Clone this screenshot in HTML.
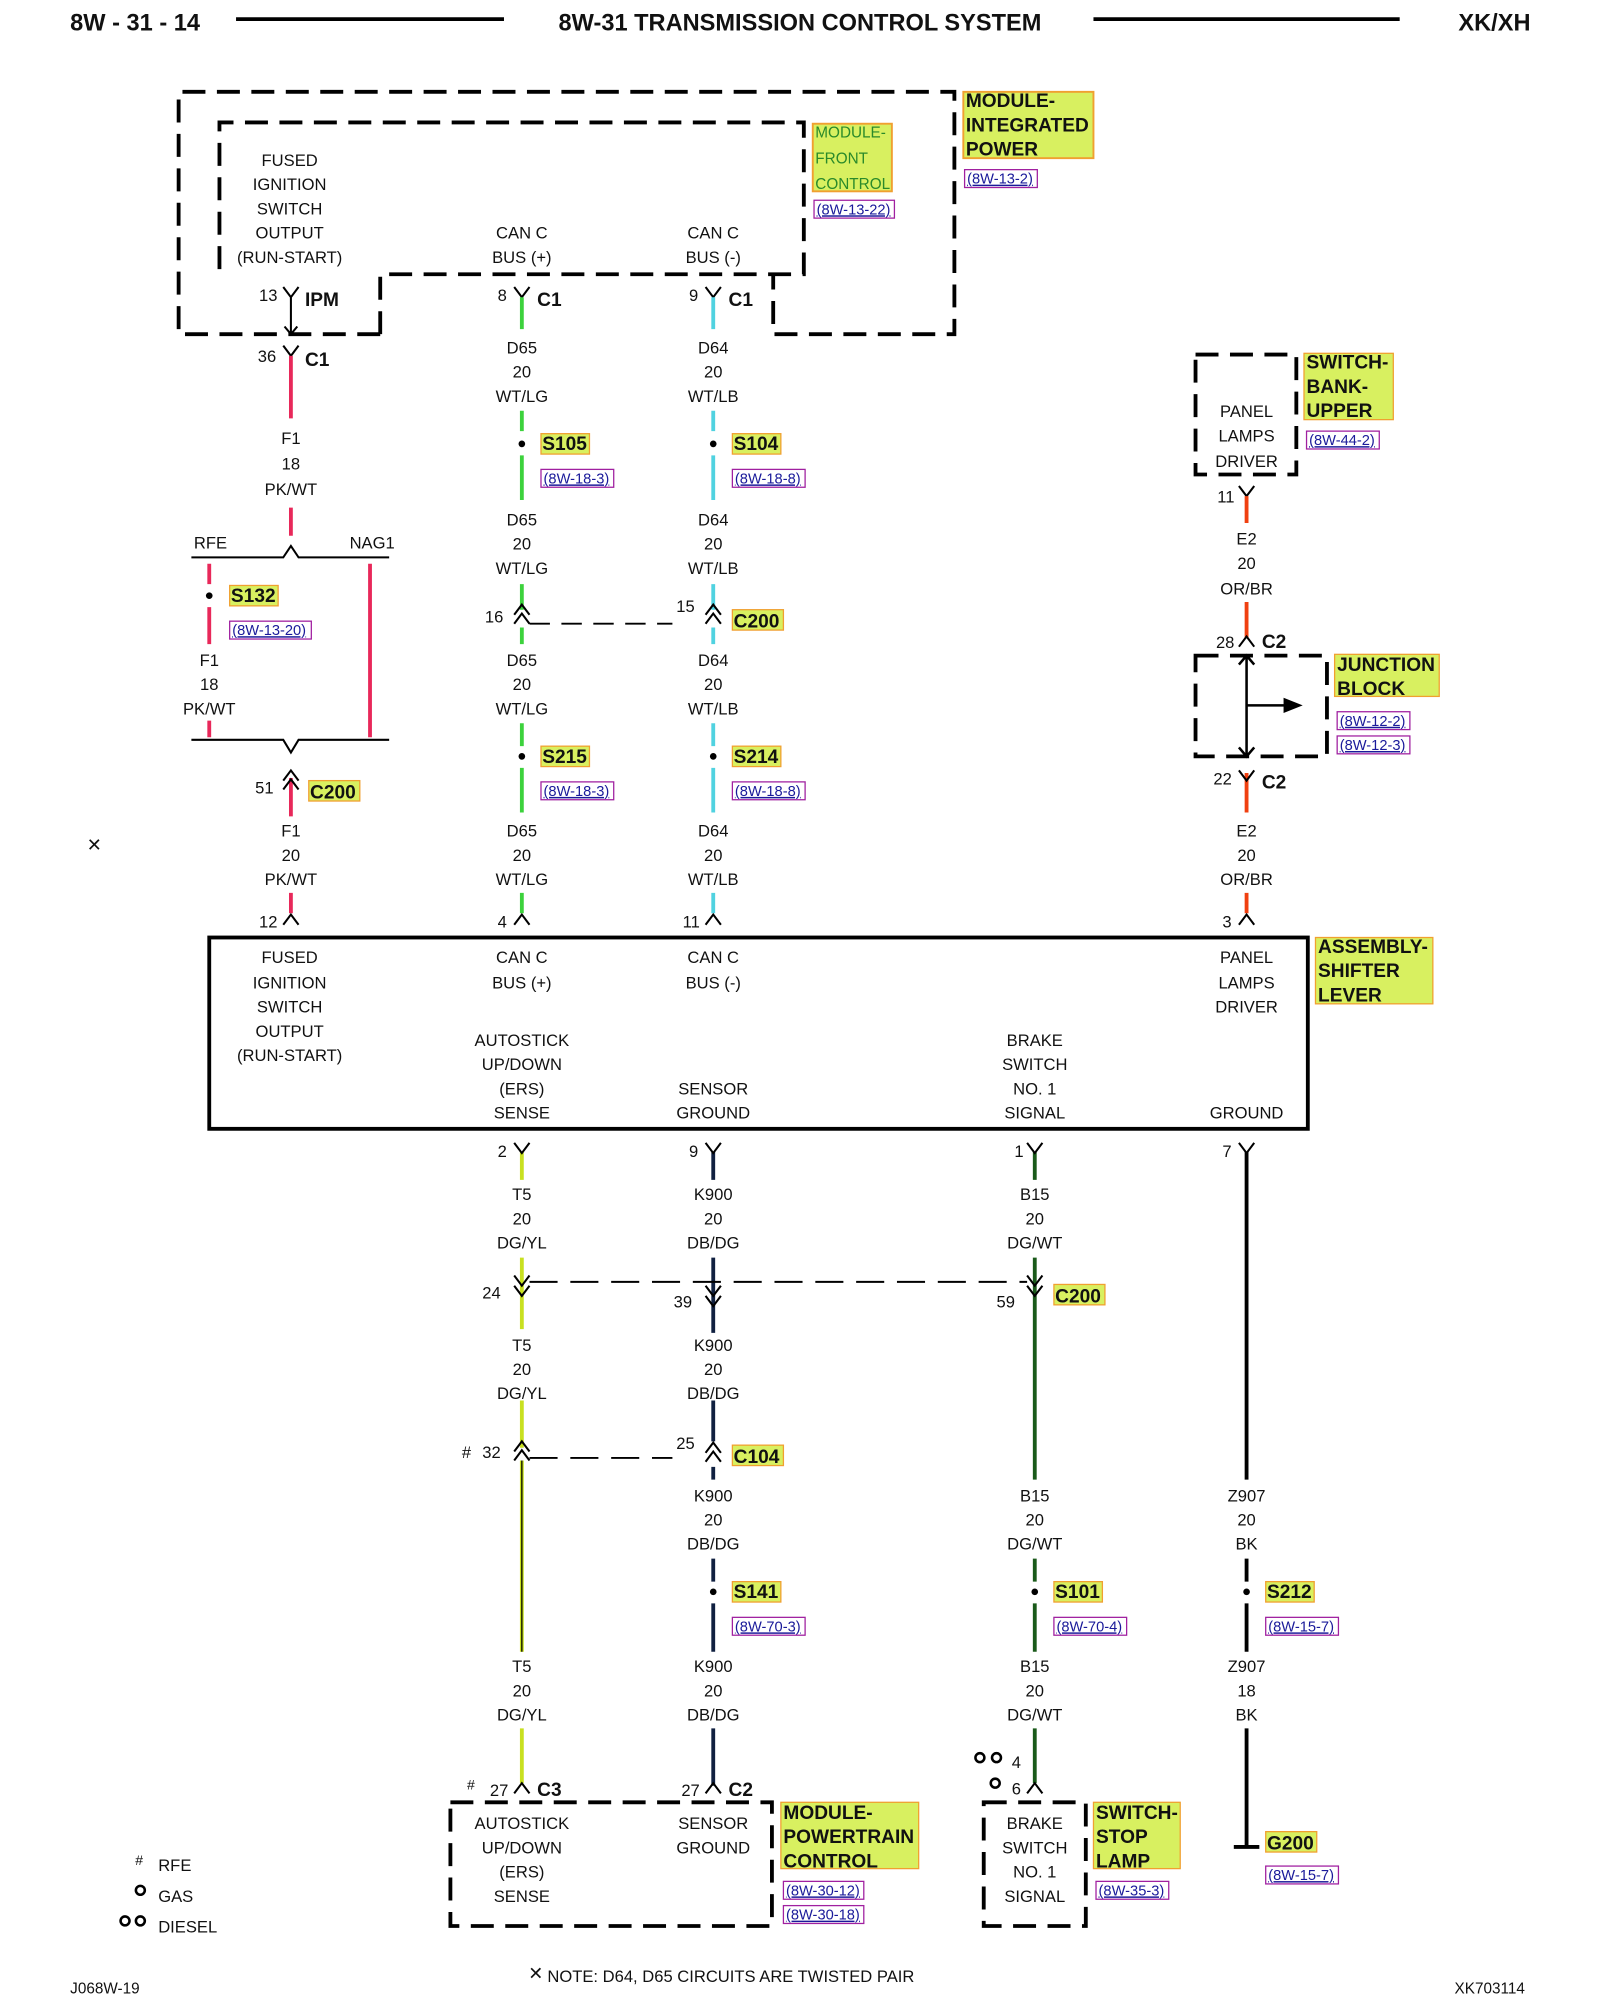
<!DOCTYPE html>
<html><head><meta charset="utf-8"><style>
html,body{margin:0;padding:0;background:#fff;}
svg{display:block}
text{font-family:"Liberation Sans",sans-serif;font-size:13px;fill:#111}
.m{text-anchor:middle}
.b{font-weight:bold}
.h{font-weight:bold;font-size:18.5px}
.lb{font-weight:bold;font-size:15px}
.rf{font-size:11.5px;fill:#1a1a9a;text-decoration:underline}
.d{fill:none;stroke:#000;stroke-width:3;stroke-dasharray:18,9}
.k{fill:none;stroke:#000;stroke-width:1.6}
</style></head><body>
<svg width="1600" height="2000" viewBox="0 0 1254 1568" preserveAspectRatio="none" xmlns="http://www.w3.org/2000/svg">
<rect width="1254" height="1568" fill="#fff"/>
<!-- header -->
<text x="55" y="24" class="h">8W - 31 - 14</text>
<line x1="185" y1="15" x2="395" y2="15" stroke="#000" stroke-width="3"/>
<text x="627" y="24" class="h m">8W-31 TRANSMISSION CONTROL SYSTEM</text>
<line x1="857" y1="15" x2="1097" y2="15" stroke="#000" stroke-width="3"/>
<text x="1143" y="24" class="h">XK/XH</text>

<!-- IPM boxes -->
<path class="d" d="M298,262 H140 V72 H748 V262 H606 V215"/>
<path class="d" d="M298,262 V215 H630 V96 H172 V215"/>
<rect x="637" y="97" width="62" height="53" fill="#d8f060" stroke="#f0a030" stroke-width="1.5"/>
<text x="639" y="108" style="font-size:12px;fill:#2a8a2a">MODULE-</text>
<text x="639" y="128" style="font-size:12px;fill:#2a8a2a">FRONT</text>
<text x="639" y="148" style="font-size:12px;fill:#2a8a2a">CONTROL</text>
<rect x="638" y="157" width="63" height="14" fill="none" stroke="#a020a0"/><text x="640" y="168" class="rf">(8W-13-22)</text>
<rect x="755" y="72" width="102" height="52" fill="#d8f060" stroke="#f0a030" stroke-width="1.5"/>
<text x="757" y="84" class="lb">MODULE-</text><text x="757" y="103" class="lb">INTEGRATED</text><text x="757" y="122" class="lb">POWER</text>
<rect x="756" y="133" width="57" height="14" fill="none" stroke="#a020a0"/><text x="758" y="144" class="rf">(8W-13-2)</text>

<g class="m">
<text x="227" y="130">FUSED</text><text x="227" y="149">IGNITION</text><text x="227" y="168">SWITCH</text><text x="227" y="187">OUTPUT</text><text x="227" y="206">(RUN-START)</text>
<text x="409" y="187">CAN C</text><text x="409" y="206">BUS (+)</text>
<text x="559" y="187">CAN C</text><text x="559" y="206">BUS (-)</text>
</g>

<!-- connectors top -->
<text x="203" y="236">13</text><path class="k" d="M222,225 L228,233 L234,225 M228,233 V262 M223,256 L228,262 L233,256"/><text x="239" y="240" class="lb">IPM</text>
<text x="202" y="284">36</text><path class="k" d="M222,271 L228,279 L234,271 M228,279 V283"/><text x="239" y="287" class="lb">C1</text>
<text x="390" y="236">8</text><path class="k" d="M403,225 L409,233 L415,225"/><text x="421" y="240" class="lb">C1</text>
<text x="540" y="236">9</text><path class="k" d="M553,225 L559,233 L565,225"/><text x="571" y="240" class="lb">C1</text>

<!-- F1 pink -->
<g stroke="#e8285a" stroke-width="3" fill="none">
<path d="M228,279 V328 M228,398 V420 M164,442 V458 M164,476 V505 M164,565 V578 M290,442 V578 M228,610 V640 M228,700 V716"/>
</g>
<g class="m"><text x="228" y="348">F1</text><text x="228" y="368">18</text><text x="228" y="388">PK/WT</text></g>
<path class="k" d="M150,437 H222 L228,428 L234,437 H305"/>
<text x="152" y="430">RFE</text><text x="274" y="430">NAG1</text>
<circle cx="164" cy="467" r="2.6"/>
<rect x="180" y="459" width="38" height="16" fill="#d8f060" stroke="#f0a030"/><text x="181" y="472" class="lb">S132</text>
<rect x="180" y="487" width="64" height="14" fill="none" stroke="#a020a0"/><text x="182" y="498" class="rf">(8W-13-20)</text>
<g class="m"><text x="164" y="522">F1</text><text x="164" y="541">18</text><text x="164" y="560">PK/WT</text></g>
<path class="k" d="M150,580 H222 L228,590 L234,580 H305"/>
<text x="200" y="622">51</text><path class="k" d="M222,612 L228,604 L234,612 M222,619 L228,611 L234,619"/>
<rect x="242" y="612" width="40" height="16" fill="#d8f060" stroke="#f0a030"/><text x="243" y="626" class="lb">C200</text>
<text x="68" y="667" style="font-size:14px">✕</text>
<g class="m"><text x="228" y="656">F1</text><text x="228" y="675">20</text><text x="228" y="694">PK/WT</text></g>
<text x="203" y="727">12</text><path class="k" d="M222,725 L228,717 L234,725"/>

<!-- D65 / D64 -->
<g stroke="#3cd23c" stroke-width="3"><path d="M409,233 V258 M409,322 V338 M409,357 V392 M409,458 V478 M409,492 V505 M409,567 V585 M409,602 V637 M409,700 V716"/></g>
<g stroke="#50d2e0" stroke-width="3"><path d="M559,233 V258 M559,322 V338 M559,357 V392 M559,458 V478 M559,492 V505 M559,567 V585 M559,602 V637 M559,700 V716"/></g>
<g class="m">
<text x="409" y="277">D65</text><text x="409" y="296">20</text><text x="409" y="315">WT/LG</text>
<text x="559" y="277">D64</text><text x="559" y="296">20</text><text x="559" y="315">WT/LB</text>
<text x="409" y="412">D65</text><text x="409" y="431">20</text><text x="409" y="450">WT/LG</text>
<text x="559" y="412">D64</text><text x="559" y="431">20</text><text x="559" y="450">WT/LB</text>
<text x="409" y="522">D65</text><text x="409" y="541">20</text><text x="409" y="560">WT/LG</text>
<text x="559" y="522">D64</text><text x="559" y="541">20</text><text x="559" y="560">WT/LB</text>
<text x="409" y="656">D65</text><text x="409" y="675">20</text><text x="409" y="694">WT/LG</text>
<text x="559" y="656">D64</text><text x="559" y="675">20</text><text x="559" y="694">WT/LB</text>
</g>
<circle cx="409" cy="348" r="2.6"/><circle cx="559" cy="348" r="2.6"/>
<rect x="424" y="340" width="38" height="16" fill="#d8f060" stroke="#f0a030"/><text x="425" y="353" class="lb">S105</text>
<rect x="574" y="340" width="38" height="16" fill="#d8f060" stroke="#f0a030"/><text x="575" y="353" class="lb">S104</text>
<rect x="424" y="368" width="57" height="14" fill="none" stroke="#a020a0"/><text x="426" y="379" class="rf">(8W-18-3)</text>
<rect x="574" y="368" width="57" height="14" fill="none" stroke="#a020a0"/><text x="576" y="379" class="rf">(8W-18-8)</text>
<text x="380" y="488">16</text><path class="k" d="M403,482 L409,474 L415,482 M403,489 L409,481 L415,489"/>
<text x="530" y="480">15</text><path class="k" d="M553,482 L559,474 L565,482 M553,489 L559,481 L565,489"/>
<line x1="415" y1="489" x2="527" y2="489" stroke="#000" stroke-width="1.5" stroke-dasharray="16,9"/>
<rect x="574" y="478" width="40" height="16" fill="#d8f060" stroke="#f0a030"/><text x="575" y="492" class="lb">C200</text>
<circle cx="409" cy="593" r="2.6"/><circle cx="559" cy="593" r="2.6"/>
<rect x="424" y="585" width="38" height="16" fill="#d8f060" stroke="#f0a030"/><text x="425" y="598" class="lb">S215</text>
<rect x="574" y="585" width="38" height="16" fill="#d8f060" stroke="#f0a030"/><text x="575" y="598" class="lb">S214</text>
<rect x="424" y="613" width="57" height="14" fill="none" stroke="#a020a0"/><text x="426" y="624" class="rf">(8W-18-3)</text>
<rect x="574" y="613" width="57" height="14" fill="none" stroke="#a020a0"/><text x="576" y="624" class="rf">(8W-18-8)</text>
<text x="390" y="727">4</text><path class="k" d="M403,725 L409,717 L415,725"/>
<text x="535" y="727">11</text><path class="k" d="M553,725 L559,717 L565,725"/>

<!-- right: switch bank -->
<path class="d" d="M937,278 H1016 V372 H937 Z"/>
<g class="m"><text x="977" y="327">PANEL</text><text x="977" y="346">LAMPS</text><text x="977" y="366">DRIVER</text></g>
<rect x="1022" y="277" width="70" height="52" fill="#d8f060" stroke="#f0a030"/>
<text x="1024" y="289" class="lb">SWITCH-</text><text x="1024" y="308" class="lb">BANK-</text><text x="1024" y="327" class="lb">UPPER</text>
<rect x="1024" y="338" width="57" height="14" fill="none" stroke="#a020a0"/><text x="1026" y="349" class="rf">(8W-44-2)</text>
<text x="954" y="394">11</text><path class="k" d="M971,381 L977,389 L983,381"/>
<g stroke="#f04010" stroke-width="3"><path d="M977,389 V410 M977,472 V500 M977,606 V637 M977,700 V716"/></g>
<g class="m"><text x="977" y="427">E2</text><text x="977" y="446">20</text><text x="977" y="466">OR/BR</text>
<text x="977" y="656">E2</text><text x="977" y="675">20</text><text x="977" y="694">OR/BR</text></g>
<text x="953" y="508">28</text><path class="k" d="M971,507 L977,499 L983,507"/><text x="989" y="508" class="lb">C2</text>
<path class="d" d="M937,514 H1040 V593 H937 Z"/>
<path d="M977,514 V593 M971,521 L977,514 L983,521 M971,586 L977,593 L983,586 M977,553 H1008" stroke="#000" stroke-width="2" fill="none"/>
<path d="M1006,547 L1021,553 L1006,559 Z"/>
<rect x="1046" y="513" width="82" height="33" fill="#d8f060" stroke="#f0a030"/>
<text x="1048" y="526" class="lb">JUNCTION</text><text x="1048" y="545" class="lb">BLOCK</text>
<rect x="1048" y="558" width="57" height="14" fill="none" stroke="#a020a0"/><text x="1050" y="569" class="rf">(8W-12-2)</text>
<rect x="1048" y="577" width="57" height="14" fill="none" stroke="#a020a0"/><text x="1050" y="588" class="rf">(8W-12-3)</text>
<text x="951" y="615">22</text><path class="k" d="M971,604 L977,612 L983,604"/><text x="989" y="618" class="lb">C2</text>
<text x="958" y="727">3</text><path class="k" d="M971,725 L977,717 L983,725"/>

<!-- shifter -->
<rect x="164" y="735" width="861" height="150" fill="none" stroke="#000" stroke-width="3"/>
<rect x="1031" y="735" width="92" height="52" fill="#d8f060" stroke="#f0a030"/>
<text x="1033" y="747" class="lb">ASSEMBLY-</text><text x="1033" y="766" class="lb">SHIFTER</text><text x="1033" y="785" class="lb">LEVER</text>
<g class="m">
<text x="227" y="755">FUSED</text><text x="227" y="775">IGNITION</text><text x="227" y="794">SWITCH</text><text x="227" y="813">OUTPUT</text><text x="227" y="832">(RUN-START)</text>
<text x="409" y="755">CAN C</text><text x="409" y="775">BUS (+)</text>
<text x="559" y="755">CAN C</text><text x="559" y="775">BUS (-)</text>
<text x="977" y="755">PANEL</text><text x="977" y="775">LAMPS</text><text x="977" y="794">DRIVER</text>
<text x="409" y="820">AUTOSTICK</text><text x="409" y="839">UP/DOWN</text><text x="409" y="858">(ERS)</text><text x="409" y="877">SENSE</text>
<text x="559" y="858">SENSOR</text><text x="559" y="877">GROUND</text>
<text x="811" y="820">BRAKE</text><text x="811" y="839">SWITCH</text><text x="811" y="858">NO. 1</text><text x="811" y="877">SIGNAL</text>
<text x="977" y="877">GROUND</text>
</g>

<!-- lower wires -->
<g stroke="#c8e020" stroke-width="3"><path d="M409,903 V925 M409,986 V1042 M409,1098 V1135 M409,1145 V1295 M409,1355 V1398"/></g>
<g stroke="#000" stroke-width="1"><path d="M409,1145 V1295"/></g>
<g stroke="#102040" stroke-width="3"><path d="M559,903 V925 M559,986 V1045 M559,1098 V1130 M559,1150 V1160 M559,1222 V1240 M559,1257 V1295 M559,1355 V1400"/></g>
<g stroke="#1a5a1a" stroke-width="3"><path d="M811,903 V925 M811,986 V1160 M811,1222 V1240 M811,1257 V1295 M811,1355 V1398"/></g>
<g stroke="#000" stroke-width="3"><path d="M977,903 V1160 M977,1222 V1240 M977,1257 V1295 M977,1355 V1448 M967,1448 H987"/></g>
<text x="390" y="907">2</text><path class="k" d="M403,896 L409,904 L415,896"/>
<text x="540" y="907">9</text><path class="k" d="M553,896 L559,904 L565,896"/>
<text x="795" y="907">1</text><path class="k" d="M805,896 L811,904 L817,896"/>
<text x="958" y="907">7</text><path class="k" d="M971,896 L977,904 L983,896"/>
<g class="m">
<text x="409" y="941">T5</text><text x="409" y="960">20</text><text x="409" y="979">DG/YL</text>
<text x="559" y="941">K900</text><text x="559" y="960">20</text><text x="559" y="979">DB/DG</text>
<text x="811" y="941">B15</text><text x="811" y="960">20</text><text x="811" y="979">DG/WT</text>
<text x="409" y="1059">T5</text><text x="409" y="1078">20</text><text x="409" y="1097">DG/YL</text>
<text x="559" y="1059">K900</text><text x="559" y="1078">20</text><text x="559" y="1097">DB/DG</text>
<text x="559" y="1177">K900</text><text x="559" y="1196">20</text><text x="559" y="1215">DB/DG</text>
<text x="811" y="1177">B15</text><text x="811" y="1196">20</text><text x="811" y="1215">DG/WT</text>
<text x="977" y="1177">Z907</text><text x="977" y="1196">20</text><text x="977" y="1215">BK</text>
<text x="409" y="1311">T5</text><text x="409" y="1330">20</text><text x="409" y="1349">DG/YL</text>
<text x="559" y="1311">K900</text><text x="559" y="1330">20</text><text x="559" y="1349">DB/DG</text>
<text x="811" y="1311">B15</text><text x="811" y="1330">20</text><text x="811" y="1349">DG/WT</text>
<text x="977" y="1311">Z907</text><text x="977" y="1330">18</text><text x="977" y="1349">BK</text>
</g>
<!-- C200 lower -->
<line x1="415" y1="1005" x2="805" y2="1005" stroke="#000" stroke-width="1.5" stroke-dasharray="22,10"/>
<text x="378" y="1018">24</text><path class="k" d="M403,1000 L409,1008 L415,1000 M403,1008 L409,1016 L415,1008"/>
<text x="528" y="1025">39</text><path class="k" d="M553,1008 L559,1016 L565,1008 M553,1016 L559,1024 L565,1016"/>
<text x="781" y="1025">59</text><path class="k" d="M805,1000 L811,1008 L817,1000 M805,1008 L811,1016 L817,1008"/>
<rect x="826" y="1007" width="40" height="16" fill="#d8f060" stroke="#f0a030"/><text x="827" y="1021" class="lb">C200</text>
<!-- C104 -->
<line x1="415" y1="1143" x2="527" y2="1143" stroke="#000" stroke-width="1.5" stroke-dasharray="22,10"/>
<text x="362" y="1143">#</text><text x="378" y="1143">32</text><path class="k" d="M403,1138 L409,1130 L415,1138 M403,1145 L409,1137 L415,1145"/>
<text x="530" y="1136">25</text><path class="k" d="M553,1139 L559,1131 L565,1139 M553,1146 L559,1138 L565,1146"/>
<rect x="574" y="1133" width="40" height="16" fill="#d8f060" stroke="#f0a030"/><text x="575" y="1147" class="lb">C104</text>
<!-- splices -->
<circle cx="559" cy="1248" r="2.6"/><circle cx="811" cy="1248" r="2.6"/><circle cx="977" cy="1248" r="2.6"/>
<rect x="574" y="1240" width="38" height="16" fill="#d8f060" stroke="#f0a030"/><text x="575" y="1253" class="lb">S141</text>
<rect x="826" y="1240" width="38" height="16" fill="#d8f060" stroke="#f0a030"/><text x="827" y="1253" class="lb">S101</text>
<rect x="992" y="1240" width="38" height="16" fill="#d8f060" stroke="#f0a030"/><text x="993" y="1253" class="lb">S212</text>
<rect x="574" y="1268" width="57" height="14" fill="none" stroke="#a020a0"/><text x="576" y="1279" class="rf">(8W-70-3)</text>
<rect x="826" y="1268" width="57" height="14" fill="none" stroke="#a020a0"/><text x="828" y="1279" class="rf">(8W-70-4)</text>
<rect x="992" y="1268" width="57" height="14" fill="none" stroke="#a020a0"/><text x="994" y="1279" class="rf">(8W-15-7)</text>

<!-- bottom connectors -->
<text x="366" y="1403" style="font-size:11px">#</text><text x="384" y="1408">27</text><path class="k" d="M403,1406 L409,1398 L415,1406"/><text x="421" y="1408" class="lb">C3</text>
<text x="534" y="1408">27</text><path class="k" d="M553,1406 L559,1398 L565,1406"/><text x="571" y="1408" class="lb">C2</text>
<circle cx="768" cy="1378" r="3.5" fill="none" stroke="#000" stroke-width="2"/><circle cx="781" cy="1378" r="3.5" fill="none" stroke="#000" stroke-width="2"/><text x="793" y="1386">4</text>
<circle cx="780" cy="1398" r="3.5" fill="none" stroke="#000" stroke-width="2"/><text x="793" y="1407">6</text>
<path class="k" d="M805,1406 L811,1398 L817,1406"/>

<path class="d" d="M353,1413 H605 V1510 H353 Z"/>
<g class="m">
<text x="409" y="1434">AUTOSTICK</text><text x="409" y="1453">UP/DOWN</text><text x="409" y="1472">(ERS)</text><text x="409" y="1491">SENSE</text>
<text x="559" y="1434">SENSOR</text><text x="559" y="1453">GROUND</text>
</g>
<rect x="612" y="1413" width="108" height="52" fill="#d8f060" stroke="#f0a030"/>
<text x="614" y="1426" class="lb">MODULE-</text><text x="614" y="1445" class="lb">POWERTRAIN</text><text x="614" y="1464" class="lb">CONTROL</text>
<rect x="614" y="1475" width="63" height="14" fill="none" stroke="#a020a0"/><text x="616" y="1486" class="rf">(8W-30-12)</text>
<rect x="614" y="1494" width="63" height="14" fill="none" stroke="#a020a0"/><text x="616" y="1505" class="rf">(8W-30-18)</text>

<path class="d" d="M771,1413 H851 V1510 H771 Z"/>
<g class="m"><text x="811" y="1434">BRAKE</text><text x="811" y="1453">SWITCH</text><text x="811" y="1472">NO. 1</text><text x="811" y="1491">SIGNAL</text></g>
<rect x="857" y="1413" width="68" height="52" fill="#d8f060" stroke="#f0a030"/>
<text x="859" y="1426" class="lb">SWITCH-</text><text x="859" y="1445" class="lb">STOP</text><text x="859" y="1464" class="lb">LAMP</text>
<rect x="859" y="1475" width="57" height="14" fill="none" stroke="#a020a0"/><text x="861" y="1486" class="rf">(8W-35-3)</text>

<rect x="992" y="1436" width="40" height="16" fill="#d8f060" stroke="#f0a030"/><text x="993" y="1450" class="lb">G200</text>
<rect x="992" y="1463" width="57" height="14" fill="none" stroke="#a020a0"/><text x="994" y="1474" class="rf">(8W-15-7)</text>

<!-- legend -->
<text x="106" y="1462" style="font-size:11px">#</text><text x="124" y="1467">RFE</text>
<circle cx="110" cy="1482" r="3.5" fill="none" stroke="#000" stroke-width="2"/><text x="124" y="1491">GAS</text>
<circle cx="98" cy="1506" r="3.5" fill="none" stroke="#000" stroke-width="2"/><circle cx="110" cy="1506" r="3.5" fill="none" stroke="#000" stroke-width="2"/><text x="124" y="1515">DIESEL</text>
<text x="414" y="1552" style="font-size:14px">✕</text><text x="429" y="1554">NOTE: D64, D65  CIRCUITS ARE TWISTED PAIR</text>
<text x="55" y="1563" style="font-size:12px">J068W-19</text>
<text x="1140" y="1563" style="font-size:12px">XK703114</text>
</svg>
</body></html>
